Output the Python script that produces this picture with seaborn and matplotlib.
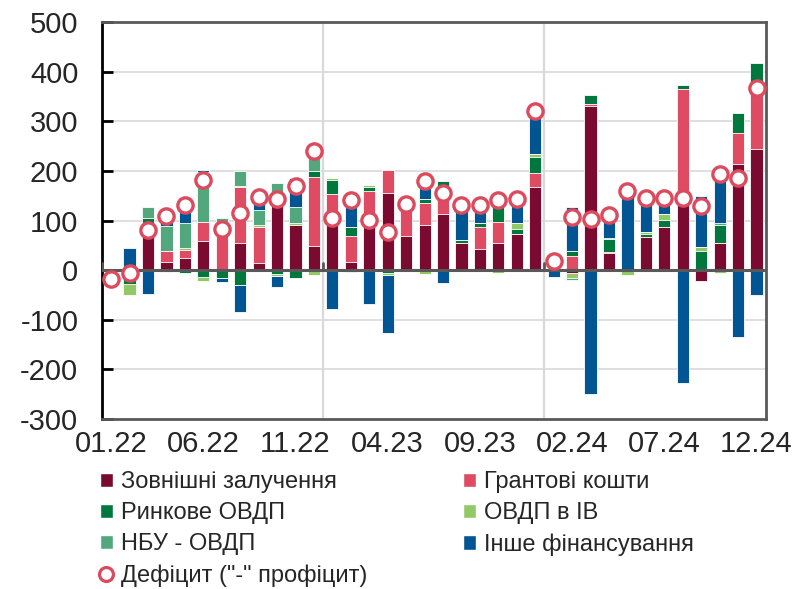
import numpy as np
import pandas as pd
import matplotlib
matplotlib.use("Agg")
import matplotlib.pyplot as plt
from matplotlib.patches import Patch
from matplotlib.lines import Line2D
import seaborn as sns

months = ["01.22", "02.22", "03.22", "04.22", "05.22", "06.22", "07.22", "08.22", "09.22", "10.22", "11.22", "12.22",
          "01.23", "02.23", "03.23", "04.23", "05.23", "06.23", "07.23", "08.23", "09.23", "10.23", "11.23", "12.23",
          "01.24", "02.24", "03.24", "04.24", "05.24", "06.24", "07.24", "08.24", "09.24", "10.24", "11.24", "12.24"]

external = [0, 0, 75, 17, 25, 59, 0, 55, 15, 129, 91, 49,
            95, 17, 91, 156, 69, 91, 114, 55, 42, 55, 72, 167,
            31, -5, 331, 34, 0, 67, 87, 131, -21, 54, 213, 245]
grants = [0, 0, 0, 21, 15, 38, 92, 112, 72, 0, 0, 139,
          58, 52, 68, 46, 59, 45, 50, 0, 45, 42, 0, 28,
          0, 28, 4, 3, 0, 0, 0, 234, 0, 0, 63, 121]
market = [0, -27, 30, 0, -5, -13, -15, -29, 0, -7, -16, 12,
          28, 18, 9, -5, 5, 7, 16, 5, 8, 49, 11, 33,
          0, 11, 18, 25, 0, 5, 14, 8, 38, 37, 40, 51]
ovdp_iv = [0, -23, 0, -3, 4, -8, 3, 3, 3, -4, 5, -10,
           4, 0, 3, -4, 0, -7, 0, 0, 0, -5, 11, 7,
           0, -10, 0, 0, -9, 5, 13, 0, 8, -5, -2, 0]
nbu = [0, 0, 22, 50, 51, 101, 10, 30, 31, 47, 31, 50,
       0, -4, 0, 0, 0, 0, 0, 0, 0, 0, 0, 0,
       0, -5, 0, 3, 0, 0, 0, 0, 0, 3, 0, 0]
other = [-17, 45, -48, 25, 41, 4, -8, -56, 27, -22, 58, 0,
         -79, 58, -69, -117, 0, 44, -25, 71, 36, 0, 49, 85,
         -13, 89, -249, 46, 169, 70, 31, -228, 103, 104, -132, -50]
deficit = [-17, -5, 80, 110, 131, 181, 82, 115, 148, 143, 169, 240,
           106, 141, 102, 76, 133, 180, 155, 131, 131, 141, 143, 320,
           18, 108, 104, 111, 160, 145, 145, 145, 129, 193, 186, 368]

series_names = ["Зовнішні залучення", "Грантові кошти", "Ринкове ОВДП",
                "ОВДП в ІВ", "НБУ - ОВДП", "Інше фінансування"]
series_vals = [external, grants, market, ovdp_iv, nbu, other]
colors = ["#7A0A30", "#DE4B63", "#00773C", "#92C966", "#52A77C", "#005592"]
def_color = "#DC4A5E"

sns.set_style("white")
plt.rcParams['font.family'] = ['Liberation Sans', 'DejaVu Sans']
plt.rcParams['axes.unicode_minus'] = False

fig = plt.figure(figsize=(7.96, 5.89), dpi=100)
ax = fig.add_axes([0.128, 0.2886, 0.834, 0.674])

arr = np.array(series_vals, dtype=float)
pos = np.clip(arr, 0, None).cumsum(axis=0)
neg = np.clip(arr, None, 0).cumsum(axis=0)

for k in range(len(series_names) - 1, -1, -1):
    for cum in (pos, neg):
        df = pd.DataFrame({"month": months, "val": cum[k]})
        sns.barplot(data=df, x="month", y="val", order=months, color=colors[k],
                    saturation=1, width=0.66, edgecolor="white", linewidth=0.6,
                    errorbar=None, ax=ax, zorder=2)

ddf = pd.DataFrame({"month": months, "deficit": deficit})
sns.pointplot(data=ddf, x="month", y="deficit", order=months, color=def_color,
              markers="o", linestyle="none", errorbar=None, ax=ax,
              markersize=11, markeredgewidth=2.4)
for ln in ax.lines:
    ln.set_markerfacecolor("white")
    ln.set_markeredgecolor(def_color)
    ln.set_zorder(6)

ax.set_xlim(-0.5, 35.5)
ax.set_ylim(-300, 500)
ax.set_yticks(np.arange(-300, 501, 100))
ax.set_xticks(range(0, 36, 5))
ax.set_xticklabels([months[i] for i in range(0, 36, 5)])
ax.set_xlabel("")
ax.set_ylabel("")

ax.grid(False)
for yv in range(-200, 500, 100):
    ax.axhline(yv, color="#D9D9D9", linewidth=1.2, zorder=0)
for xv in (11.5, 23.5):
    ax.axvline(xv, color="#D9D9D9", linewidth=1.6, zorder=0)
ax.axhline(0, color="#595959", linewidth=2.2, zorder=4)
for xv in (-0.5, 11.5, 23.5):
    ax.plot([xv, xv], [0, 15], color="#595959", linewidth=2, zorder=4)

for side in ("top", "right", "bottom"):
    ax.spines[side].set_color("#595959")
    ax.spines[side].set_linewidth(2)
ax.spines["left"].set_color("black")
ax.spines["left"].set_linewidth(2)

ax.tick_params(axis="y", direction="in", length=8, width=2, color="black",
               labelsize=21, pad=17, left=True)
ax.tick_params(axis="x", length=0, labelsize=21, pad=8)

handles = [Patch(facecolor=colors[0]), Patch(facecolor=colors[2]), Patch(facecolor=colors[4]),
           Line2D([], [], marker="o", linestyle="none", markerfacecolor="white",
                  markeredgecolor=def_color, markeredgewidth=2.3, markersize=10),
           Patch(facecolor=colors[1]), Patch(facecolor=colors[3]), Patch(facecolor=colors[5])]
labels = [series_names[0], series_names[2], series_names[4], 'Дефіцит ("-" профіцит)',
          series_names[1], series_names[3], series_names[5]]
fig.legend(handles, labels, ncol=2, loc="upper left",
           bbox_to_anchor=(100 / 796, 1 - 471 / 589), frameon=False,
           fontsize=17, handlelength=0.55, handleheight=0.55, handletextpad=0.35,
           labelspacing=0.39, columnspacing=4.05, borderpad=0, borderaxespad=0)

fig.savefig("out.png", dpi=100)
